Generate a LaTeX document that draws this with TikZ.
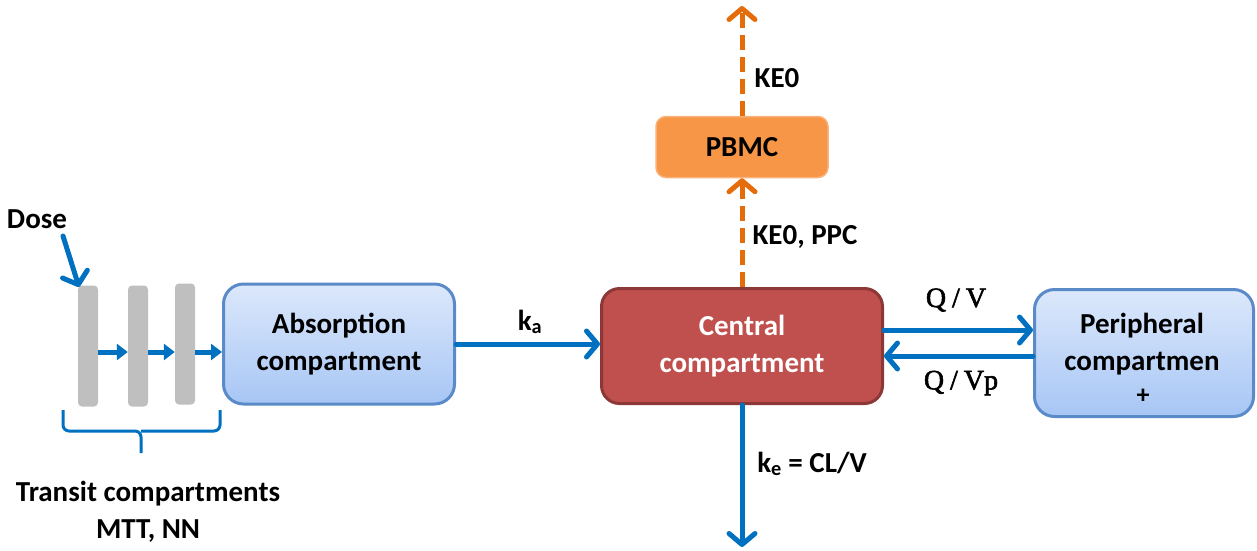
\documentclass[tikz,border=0pt]{standalone}
\usepackage{fontspec}
\setmainfont{Carlito}
\newfontfamily\qfont[FakeBold=2]{Liberation Serif}
\usetikzlibrary{arrows.meta}
\definecolor{arrblue}{HTML}{0070C0}
\definecolor{arrorange}{HTML}{E46C0A}
\definecolor{boxtop}{HTML}{DCE8FB}
\definecolor{boxbot}{HTML}{A7C6F5}
\definecolor{boxedge}{HTML}{5B8AC8}
\definecolor{cfill}{HTML}{C0504D}
\definecolor{cedge}{HTML}{8C3836}
\definecolor{ofill}{HTML}{F79646}
\definecolor{oedge}{HTML}{FAB27A}
\definecolor{barg}{HTML}{BFBFBF}
\tikzset{
  lbl/.style={font=\fontsize{29pt}{37pt}\selectfont\bfseries, align=center},
  qlbl/.style={font=\qfont\fontsize{28pt}{30pt}\selectfont},
  bluebox/.style={draw=boxedge, line width=3pt, rounded corners=20pt, top color=boxtop, bottom color=boxbot, lbl},
  bar/.style={fill=barg, rounded corners=4pt, minimum width=20pt, minimum height=121pt, inner sep=0pt},
  flow/.style={draw=arrblue, line width=5pt, line cap=round, -{Straight Barb[length=11pt,width=26pt,line width=5pt,round]}},
  small/.style={draw=arrblue, line width=5pt, -{Triangle[length=11pt,width=16pt]}},
  oflow/.style={draw=arrorange, line width=5pt, dash pattern=on 15pt off 7pt, -{Straight Barb[length=11pt,width=26pt,line width=5pt,round]}},
}
\begin{document}
\begin{tikzpicture}[x=1pt,y=-1pt]
\useasboundingbox (0,0) rectangle (1257,550);
% boxes
\node[bluebox, minimum width=231pt, minimum height=120pt] (abs) at (339,344) {Absorption\\compartment};
\node[draw=cedge, line width=3pt, rounded corners=18pt, fill=cfill, text=white, lbl, minimum width=281pt, minimum height=115pt] (cen) at (742,346) {Central\\compartment};
\node[bluebox, minimum width=219pt, minimum height=127pt] (per) at (1144,353) {};
\node[lbl] (pert) at (1142,344) {Peripheral\\compartmen};
\node[font=\fontsize{26pt}{26pt}\selectfont\bfseries] (plus) at (1143,396) {+};
\node[draw=oedge, line width=1.5pt, rounded corners=10pt, fill=ofill, lbl, minimum width=172pt, minimum height=61pt] (pbmc) at (742,147) {PBMC};
% transit bars
\node[bar] (b1) at (88,346) {};
\node[bar] (b2) at (138,346) {};
\node[bar] (b3) at (185,344) {};
\path[small] (b1.east |- 0,352) -- (b2.west |- 0,352);
\path[small] (b2.east |- 0,352) -- (b3.west |- 0,352);
\path[small] (b3.east |- 0,352) -- (abs.west |- 0,352);
% dose
\node[lbl] (dose) at (37,219) {Dose};
\coordinate (dtip) at (79,287);
\path[flow] (63,236) -- (dtip);
% brace
\draw[arrblue, line width=3pt, rounded corners=6pt] (63,410) -- (63,431) -- (141,431) -- (141,453);
\draw[arrblue, line width=3pt, rounded corners=6pt] (220,410) -- (220,431) -- (141,431);
\node[lbl] (tr) at (148,512) {Transit compartments\\MTT, NN};
% ka
\path[flow] (abs.east) -- (cen.west |- abs.east);
\node[lbl] (ka) at (530,322) {k\textsubscript{a}};
% ke
\coordinate (keend) at (742,547);
\path[flow] (cen.south) -- (keend);
\node[lbl] (ke) at (812,464) {k\textsubscript{e} = CL/V};
% Q/V
\path[flow] (cen.east |- 0,330) -- (per.west |- 0,330);
\path[flow] (per.west |- 0,356) -- (cen.east |- 0,356);
\node[qlbl] (qv) at (956,300) {Q\hspace{6pt}/\hspace{6pt}V};
\node[qlbl] (qvp) at (961,383) {Q\hspace{6pt}/\hspace{6pt}Vp};
% orange
\path[oflow] (cen.north) -- (pbmc.south);
\coordinate (otop) at (742,6);
\path[oflow] (pbmc.north) -- (otop);
\node[lbl] (ke0) at (777,78) {KE0};
\node[lbl] (ke0p) at (805,237) {KE0, PPC};
\end{tikzpicture}
\end{document}
